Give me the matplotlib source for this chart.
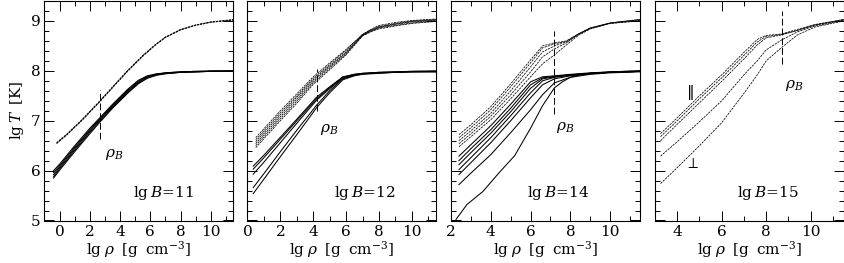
import matplotlib as mpl
mpl.use('Agg')
import matplotlib.pyplot as plt
from matplotlib.ticker import MultipleLocator

mpl.rcParams['font.family'] = 'DejaVu Serif'
mpl.rcParams['mathtext.fontset'] = 'dejavuserif'
fontsize = 11
mpl.rcParams.update({'font.size': fontsize})

# ---- panel 1: lg B = 11 ----
x1_dash = [-0.2, 0.5, 1.5, 2.6, 3.5, 4.5, 5.5, 6.3, 7.0, 8.0, 9.0, 10.0, 11.5]
t1_dash = [
    [6.56, 6.74, 7.03, 7.38, 7.68, 8.01, 8.31, 8.52, 8.68, 8.83, 8.92, 8.98, 9.03],
    [6.55, 6.73, 7.02, 7.37, 7.67, 8.00, 8.30, 8.51, 8.67, 8.82, 8.92, 8.98, 9.02],
    [6.54, 6.72, 7.01, 7.36, 7.66, 7.99, 8.29, 8.51, 8.67, 8.82, 8.91, 8.97, 9.02],
]
x1_sol = [-0.4, 0.0, 1.0, 2.0, 2.6, 3.5, 4.5, 5.2, 5.8, 6.4, 7.0, 8.0, 9.0, 10.0, 11.5]
t1_sol = [
    [6.00, 6.13, 6.50, 6.85, 7.04, 7.33, 7.63, 7.81, 7.90, 7.94, 7.96, 7.98, 7.99, 8.00, 8.00],
    [5.96, 6.10, 6.47, 6.82, 7.02, 7.31, 7.61, 7.79, 7.89, 7.93, 7.96, 7.98, 7.99, 7.99, 8.00],
    [5.92, 6.07, 6.44, 6.80, 7.00, 7.29, 7.59, 7.77, 7.88, 7.93, 7.95, 7.97, 7.98, 7.99, 7.99],
    [5.88, 6.04, 6.41, 6.77, 6.97, 7.27, 7.57, 7.75, 7.86, 7.92, 7.95, 7.97, 7.98, 7.99, 7.99],
    [5.85, 6.01, 6.38, 6.74, 6.95, 7.25, 7.55, 7.74, 7.85, 7.91, 7.94, 7.97, 7.98, 7.99, 7.99],
]

# ---- panel 2: lg B = 12 ----
x2_dash = [0.5, 1.0, 2.0, 3.0, 4.0, 5.0, 6.0, 7.0, 7.5, 8.0, 9.0, 10.0, 11.5]
t2_dash = [
    [6.66, 6.84, 7.20, 7.54, 7.88, 8.16, 8.43, 8.73, 8.83, 8.91, 8.97, 9.01, 9.04],
    [6.62, 6.80, 7.16, 7.50, 7.85, 8.13, 8.41, 8.73, 8.82, 8.89, 8.95, 9.00, 9.03],
    [6.58, 6.76, 7.12, 7.47, 7.82, 8.10, 8.38, 8.72, 8.81, 8.88, 8.94, 8.99, 9.02],
    [6.54, 6.72, 7.08, 7.43, 7.79, 8.08, 8.36, 8.71, 8.80, 8.87, 8.93, 8.98, 9.01],
    [6.50, 6.68, 7.04, 7.39, 7.76, 8.05, 8.34, 8.71, 8.79, 8.86, 8.91, 8.96, 9.00],
    [6.46, 6.64, 7.00, 7.35, 7.73, 8.02, 8.32, 8.70, 8.78, 8.84, 8.90, 8.95, 8.99],
]
x2_sol = [0.35, 1.0, 2.0, 3.0, 4.2, 5.0, 5.8, 6.5, 7.0, 8.0, 9.0, 10.0, 11.5]
t2_sol = [
    [6.09, 6.31, 6.67, 7.03, 7.47, 7.68, 7.88, 7.93, 7.95, 7.97, 7.98, 7.99, 8.00],
    [6.03, 6.26, 6.63, 7.00, 7.44, 7.66, 7.87, 7.93, 7.95, 7.97, 7.98, 7.99, 7.99],
    [5.93, 6.17, 6.56, 6.95, 7.41, 7.64, 7.86, 7.92, 7.94, 7.96, 7.97, 7.98, 7.99],
    [5.66, 5.94, 6.38, 6.81, 7.31, 7.60, 7.84, 7.91, 7.94, 7.96, 7.97, 7.98, 7.98],
    [5.54, 5.83, 6.28, 6.72, 7.26, 7.56, 7.82, 7.90, 7.93, 7.95, 7.97, 7.98, 7.98],
]

# ---- panel 3: lg B = 14 ----
x3_dash = [2.4, 3.0, 4.0, 5.0, 6.0, 6.6, 7.2, 7.8, 8.4, 9.0, 10.0, 11.5]
t3_dash = [
    [6.72, 6.92, 7.28, 7.74, 8.22, 8.50, 8.56, 8.60, 8.74, 8.86, 8.96, 9.03],
    [6.66, 6.86, 7.22, 7.68, 8.16, 8.46, 8.54, 8.59, 8.74, 8.86, 8.96, 9.03],
    [6.60, 6.80, 7.15, 7.60, 8.08, 8.38, 8.50, 8.58, 8.73, 8.85, 8.96, 9.02],
    [6.54, 6.74, 7.09, 7.52, 7.98, 8.28, 8.44, 8.56, 8.73, 8.85, 8.95, 9.01],
    [6.48, 6.68, 7.02, 7.44, 7.88, 8.14, 8.32, 8.52, 8.71, 8.84, 8.95, 9.00],
]
x3_sol = [2.4, 3.0, 4.0, 5.0, 6.0, 6.6, 7.2, 8.0, 9.0, 10.0, 11.5]
t3_sol = [
    [6.29, 6.52, 6.90, 7.33, 7.78, 7.88, 7.90, 7.93, 7.96, 7.98, 8.00],
    [6.20, 6.44, 6.82, 7.25, 7.72, 7.86, 7.89, 7.92, 7.95, 7.98, 8.00],
    [6.12, 6.36, 6.75, 7.18, 7.65, 7.84, 7.88, 7.92, 7.95, 7.97, 7.99],
    [6.02, 6.26, 6.66, 7.10, 7.56, 7.80, 7.87, 7.91, 7.95, 7.97, 7.99],
    [5.92, 6.16, 6.56, 7.00, 7.46, 7.72, 7.84, 7.90, 7.94, 7.97, 7.99],
    [5.72, 5.95, 6.32, 6.76, 7.22, 7.52, 7.76, 7.87, 7.93, 7.96, 7.98],
]
x3_low = [2.25, 2.8, 3.6, 4.4, 5.2, 6.0, 6.6, 7.2, 7.6, 8.0, 8.5, 9.0, 10.0, 11.5]
t3_low = [5.02, 5.32, 5.58, 5.95, 6.30, 6.85, 7.30, 7.66, 7.78, 7.87, 7.92, 7.95, 7.97, 7.99]

# ---- panel 4: lg B = 15 ----
x4_dash = [3.25, 4.0, 5.0, 6.0, 7.0, 7.6, 8.0, 8.7, 9.4, 10.2, 11.5]
t4_dash = [
    [6.74, 7.06, 7.50, 7.92, 8.37, 8.63, 8.71, 8.74, 8.83, 8.93, 9.03],
    [6.68, 7.00, 7.44, 7.86, 8.31, 8.58, 8.69, 8.73, 8.81, 8.92, 9.03],
    [6.60, 6.93, 7.36, 7.79, 8.24, 8.52, 8.66, 8.72, 8.81, 8.92, 9.02],
    [6.29, 6.58, 6.98, 7.40, 7.92, 8.20, 8.42, 8.62, 8.78, 8.90, 9.01],
    [5.74, 6.06, 6.50, 6.96, 7.55, 7.92, 8.20, 8.47, 8.72, 8.88, 9.00],
]

panels = [
    # xlim, rho_B, rho_B line ylim, rho_B label pos, lg B, text x (axes frac)
    [(-1.0, 11.5), 2.64, (6.63, 7.62), (3.0, 6.33), '11', 0.63],
    [(0.0, 11.5), 4.2, (7.2, 8.03), (4.4, 6.83), '12', 0.62],
    [(2.0, 11.5), 7.2, (7.13, 8.8), (7.3, 6.86), '14', 0.57],
    [(3.0, 11.5), 8.7, (8.14, 9.2), (8.85, 7.7), '15', 0.60],
]
dashed = [(x1_dash, t1_dash), (x2_dash, t2_dash), (x3_dash, t3_dash), (x4_dash, t4_dash)]
solid = [(x1_sol, t1_sol), (x2_sol, t2_sol), (x3_sol, t3_sol), None]

fig = plt.figure(figsize=(8.45, 2.63), dpi=100)
lefts = [44.5, 247.5, 451, 655]
dash_style = (0, (3.0, 1.2))

for i, p in enumerate(panels):
    ax = fig.add_axes([lefts[i] / 845, 42.5 / 263, 189 / 845, 219.5 / 263])
    xd, td = dashed[i]
    for t in td:
        ax.plot(xd, t, color='black', lw=0.55, linestyle=dash_style)
    if solid[i] is not None:
        xs, ts = solid[i]
        for t in ts:
            ax.plot(xs, t, color='black', lw=0.75)
    if i == 2:
        ax.plot(x3_low, t3_low, color='black', lw=0.75)

    ax.plot([p[1], p[1]], p[2], color='black', lw=0.7, linestyle=(0, (7, 3)))
    ax.text(p[3][0], p[3][1], r'$\rho_B$', fontsize=fontsize, ha='left', va='center')
    ax.text(p[5], 0.125, r'$\mathrm{lg}\,B\!=\!%s$' % p[4], transform=ax.transAxes,
            fontsize=fontsize, ha='center', va='center')
    if i == 3:
        ax.text(4.58, 7.57, r'$\Vert$', fontsize=fontsize, ha='center', va='center')
        ax.text(4.66, 6.13, r'$\perp$', fontsize=fontsize, ha='center', va='center')

    ax.set_xlim(*p[0])
    ax.set_ylim(5, 9.4)
    ax.xaxis.set_major_locator(MultipleLocator(2))
    ax.xaxis.set_minor_locator(MultipleLocator(1))
    ax.yaxis.set_major_locator(MultipleLocator(1))
    ax.yaxis.set_minor_locator(MultipleLocator(0.2))
    ax.tick_params(which='both', direction='in', top=True, right=True, width=0.7,
                   labelsize=fontsize, pad=3)
    ax.tick_params(which='major', length=7)
    ax.tick_params(which='minor', length=3.5)
    for s in ax.spines.values():
        s.set_linewidth(0.8)
    ax.set_xlabel(r'$\mathrm{lg}\;\rho\;\;[\mathrm{g\;\;cm^{-3}}]$', fontsize=fontsize, labelpad=0)
    if i == 0:
        ax.set_ylabel(r'$\mathrm{lg}\,T\;\;[\mathrm{K}]$', fontsize=fontsize, labelpad=3)
    else:
        ax.set_yticklabels([])

plt.savefig('out.png', dpi=100)
